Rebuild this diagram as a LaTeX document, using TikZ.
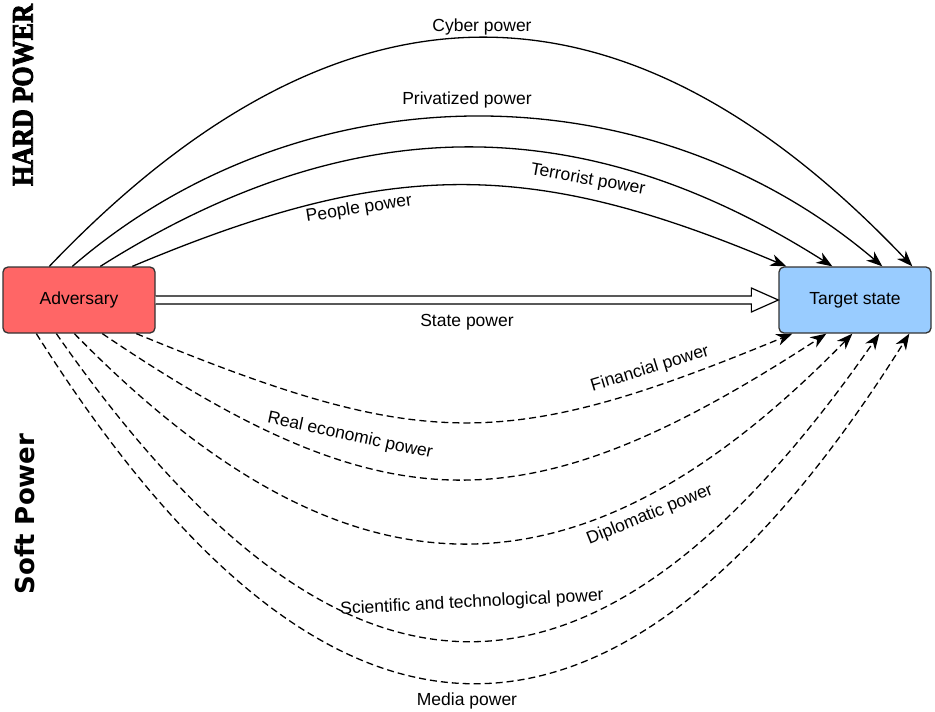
\documentclass[tikz,border=0pt]{standalone}
\usepackage{fontspec}
\setmainfont{Liberation Sans}
\newfontfamily\hardfont[BoldFeatures={FakeBold=3}]{Liberation Serif}
\newfontfamily\softfont{DejaVu Sans}
\usetikzlibrary{arrows.meta,calc}
\definecolor{advred}{HTML}{FF6666}
\definecolor{tgtblue}{HTML}{99CCFF}
\definecolor{boxline}{HTML}{333333}
\begin{document}
\begin{tikzpicture}[x=1pt,y=-1pt,
  hardline/.style={line width=1.3pt, -{Stealth[length=16pt,width=12pt,inset=5pt]}},
  softline/.style={hardline, dash pattern=on 7pt off 4pt},
  lbl/.style={font=\fontsize{17.5}{21}\selectfont, inner sep=0pt},
  box/.style={draw=boxline, line width=1.3pt, rounded corners=5pt, minimum width=152pt, minimum height=66pt, inner sep=0pt, font=\fontsize{17.5}{21}\selectfont}]
\useasboundingbox (0,0) rectangle (935,712);

\node[box, fill=advred] (adv) at (79,300) {Adversary};
\node[box, fill=tgtblue] (tgt) at (855,300) {Target state};

% state power (hollow arrow)
\draw[line width=1.2pt, fill=white] ($(adv.east)+(0,-4)$) -- ($(tgt.west)+(-27,-4)$) -- ($(tgt.west)+(-27,-12)$) -- (tgt.west) -- ($(tgt.west)+(-27,12)$) -- ($(tgt.west)+(-27,4)$) -- ($(adv.east)+(0,4)$);

% hard power
\draw[hardline] ($(adv.north west)+(47,0)$) .. controls (340,-38) and (623,-38) .. ($(tgt.north west)+(134,0)$);
\draw[hardline] ($(adv.north west)+(70,0)$) .. controls (303,67) and (648,67) .. ($(tgt.north west)+(104,0)$);
\draw[hardline] ($(adv.north west)+(98,0)$) .. controls (351,108) and (583,108) .. ($(tgt.north west)+(54,0)$);
\draw[hardline] ($(adv.north west)+(130,0)$) .. controls (390,158) and (530,158) .. ($(tgt.north west)+(8,0)$);

% soft power
\draw[softline] ($(adv.south west)+(134,0)$) .. controls (424,452) and (506,452) .. ($(tgt.south west)+(14,0)$);
\draw[softline] ($(adv.south west)+(100,0)$) .. controls (389,528) and (527,528) .. ($(tgt.south west)+(48,0)$);
\draw[softline] ($(adv.south west)+(72,0)$) .. controls (348,613) and (580,613) .. ($(tgt.south west)+(74,0)$);
\draw[softline] ($(adv.south west)+(54,0)$) .. controls (342,743) and (595,743) .. ($(tgt.south west)+(101,0)$);
\draw[softline] ($(adv.south west)+(34,0)$) .. controls (330,799) and (617,799) .. ($(tgt.south west)+(131,0)$);

% labels
\node[lbl] (lcyber) at (482,27) {Cyber power};
\node[lbl] (lpriv) at (467,100) {Privatized power};
\node[lbl, rotate=-10] (lterr) at (588,180) {Terrorist power};
\node[lbl, rotate=9] (lpeople) at (359,209) {People power};
\node[lbl] (lstate) at (467,322) {State power};
\node[lbl, rotate=17] (lfin) at (650,369) {Financial power};
\node[lbl, rotate=-12] (lreal) at (350,436) {Real economic power};
\node[lbl, rotate=22] (ldipl) at (650,515) {Diplomatic power};
\node[lbl, rotate=3] (lsci) at (472,603) {Scientific and technological power};
\node[lbl] (lmedia) at (467,701) {Media power};

\node[rotate=90, inner sep=0pt, font=\hardfont\bfseries\fontsize{30}{32}\selectfont] (hard) at (23,95) {\scalebox{0.87}[1]{HARD POWER}};
\node[rotate=90, inner sep=0pt, font=\softfont\bfseries\fontsize{26}{30}\selectfont] (soft) at (25,514) {Soft Power};
\end{tikzpicture}
\end{document}
